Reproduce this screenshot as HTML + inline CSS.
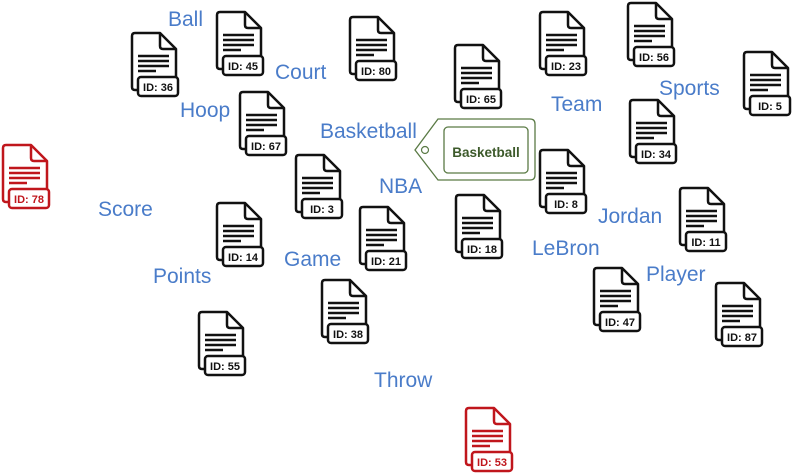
<!DOCTYPE html>
<html><head><meta charset="utf-8"><style>
html,body{margin:0;padding:0;background:#fff;width:800px;height:476px;overflow:hidden}
svg{display:block}
.w{font-family:"Liberation Sans",sans-serif;font-size:21px;fill:#4a7cc9}
.id{font-family:"Liberation Sans",sans-serif;font-size:11px;font-weight:bold;text-anchor:middle}
</style></head><body>
<svg width="800" height="476" viewBox="0 0 800 476" xmlns="http://www.w3.org/2000/svg">
<defs>
<g id="doc" fill="#fff" stroke-width="2.5" stroke-linejoin="round">
<path d="M3,0 H28 L44,16 V54 Q44,57 41,57 H3 Q0,57 0,54 V3 Q0,0 3,0 Z"/>
<path d="M28,0 V13 Q28,16 31,16 H44" fill="none"/>
<path d="M6,23 H37 M6,28 H37 M6,33 H37 M6,38 H24" fill="none" stroke-width="2.6"/>
<rect x="6" y="44" width="40" height="19" rx="3"/>
</g>
</defs>
<g stroke="#111">
<use href="#doc" x="132" y="33"/><use href="#doc" x="217" y="12"/><use href="#doc" x="350" y="17"/>
<use href="#doc" x="455" y="45"/><use href="#doc" x="540" y="12"/><use href="#doc" x="628" y="3"/>
<use href="#doc" x="744" y="52"/><use href="#doc" x="240" y="92"/><use href="#doc" x="630" y="100"/>
<use href="#doc" x="296" y="155"/><use href="#doc" x="540" y="150"/><use href="#doc" x="217" y="203"/>
<use href="#doc" x="360" y="207"/><use href="#doc" x="456" y="195"/><use href="#doc" x="680" y="188"/>
<use href="#doc" x="322" y="280"/><use href="#doc" x="594" y="268"/><use href="#doc" x="716" y="283"/>
<use href="#doc" x="199" y="312"/>
</g>
<g stroke="#c0161c"><use href="#doc" x="3" y="145"/><use href="#doc" x="466" y="408"/></g>
<g class="id" fill="#111">
<text x="158" y="91">ID: 36</text><text x="243" y="70">ID: 45</text><text x="376" y="75">ID: 80</text>
<text x="481" y="103">ID: 65</text><text x="566" y="70">ID: 23</text><text x="654" y="61">ID: 56</text>
<text x="770" y="110">ID: 5</text><text x="266" y="150">ID: 67</text><text x="656" y="158">ID: 34</text>
<text x="322" y="213">ID: 3</text><text x="566" y="208">ID: 8</text><text x="243" y="261">ID: 14</text>
<text x="386" y="265">ID: 21</text><text x="482" y="253">ID: 18</text><text x="706" y="246">ID: 11</text>
<text x="348" y="338">ID: 38</text><text x="620" y="326">ID: 47</text><text x="742" y="341">ID: 87</text>
<text x="225" y="370">ID: 55</text>
</g>
<g class="id" fill="#c0161c"><text x="29" y="203">ID: 78</text><text x="492" y="466">ID: 53</text></g>
<path d="M438,119 H530 Q535,119 535,124 V175 Q535,180 530,180 H438 L415,150 Z" fill="#fff" stroke="#5a7a45" stroke-width="1.3"/>
<circle cx="425" cy="150" r="3.5" fill="#fff" stroke="#5a7a45" stroke-width="1.2"/>
<rect x="444" y="127" width="84" height="46" rx="4" fill="#fff" stroke="#5a7a45" stroke-width="1.3"/>
<text x="486" y="157" text-anchor="middle" font-family="Liberation Sans,sans-serif" font-weight="bold" font-size="13.5" fill="#3d5a2b">Basketball</text>
<g class="w">
<text x="168" y="26">Ball</text><text x="275" y="79">Court</text><text x="180" y="117">Hoop</text>
<text x="320" y="138">Basketball</text><text x="551" y="111">Team</text><text x="659" y="95">Sports</text>
<text x="379" y="193">NBA</text><text x="98" y="216">Score</text><text x="598" y="223">Jordan</text>
<text x="532" y="255">LeBron</text><text x="284" y="266">Game</text><text x="153" y="283">Points</text>
<text x="646" y="281">Player</text><text x="374" y="387">Throw</text>
</g>
</svg>
</body></html>
